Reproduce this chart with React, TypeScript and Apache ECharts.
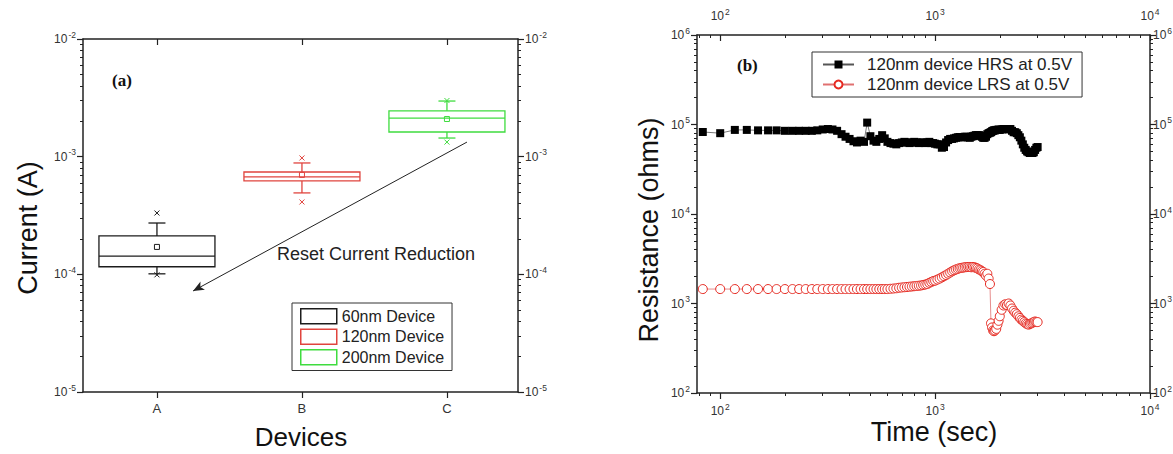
import React, { useEffect, useRef } from 'react';
import * as echarts from 'echarts';

// ---------- Panel (a): box statistics ----------
const categories = ['A', 'B', 'C'];
const categoryPositions = [1, 2, 3];
const deviceNames = ['60nm Device', '120nm Device', '200nm Device'];
const deviceColors = ['#1c1c1c', '#e0443e', '#3fdc3f'];
const whiskerLow = [1.01e-4, 4.92e-4, 1.44e-3];
const quartile1 = [1.16e-4, 6.22e-4, 1.62e-3];
const median = [1.43e-4, 6.73e-4, 2.13e-3];
const quartile3 = [2.12e-4, 7.41e-4, 2.45e-3];
const whiskerHigh = [2.73e-4, 8.84e-4, 2.97e-3];
const meanValue = [1.71e-4, 7.0e-4, 2.09e-3];
const outlierLow = [0.99e-4, 4.12e-4, 1.33e-3];
const outlierHigh = [3.32e-4, 9.75e-4, 3.0e-3];
const arrowStart = [3.138, 1.33e-3];
const arrowEnd = [1.249, 7.22e-5];
const currentMajorTicks = [1e-5, 1e-4, 1e-3, 1e-2];

// ---------- Panel (b): resistance vs time ----------
const timeSec = [
  83, 100, 117, 133, 150, 167, 183, 200, 217, 233,
  250, 267, 283, 300, 317, 333, 350, 367, 383, 400,
  417, 433, 450, 467, 483, 500, 517, 533, 550, 567,
  583, 600, 620, 640, 660, 680, 700, 720, 740, 760,
  780, 800, 820, 840, 860, 880, 900, 920, 940, 960,
  980, 1000, 1025, 1050, 1075, 1100, 1125, 1150, 1175, 1200,
  1225, 1250, 1275, 1300, 1325, 1350, 1375, 1400, 1425, 1450,
  1475, 1500, 1525, 1550, 1575, 1600, 1625, 1650, 1675, 1700,
  1725, 1750, 1775, 1800, 1820, 1840, 1860, 1880, 1900, 1925,
  1950, 1975, 2000, 2040, 2080, 2120, 2160, 2200, 2240, 2280,
  2320, 2360, 2400, 2440, 2480, 2520, 2560, 2600, 2640, 2680,
  2720, 2760, 2800, 2840, 2880, 2920, 2960, 3000,
];
const hrsOhms = [
  82500, 80000, 87000, 87000, 86000, 86000, 86000, 85000, 85000, 85000,
  85000, 85000, 86000, 88000, 89000, 88000, 85000, 78000, 73000, 69000,
  65000, 63000, 66000, 64000, 105000, 74000, 66000, 64000, 69000, 76000,
  70000, 64000, 62000, 61000, 60000, 62000, 63000, 64000, 63000, 62000,
  63000, 64000, 63000, 62000, 63000, 63000, 62000, 63000, 64000, 62000,
  62000, 61000, 60000, 60000, 55000, 56000, 63000, 67000, 69000, 69000,
  70000, 71000, 72000, 72500, 72000, 72000, 73000, 73000, 72000, 71000,
  73000, 74000, 75000, 76000, 76000, 76000, 75000, 73000, 71000, 71000,
  73000, 78000, 80000, 81000, 82000, 84000, 85000, 86000, 86000, 87000,
  87000, 88000, 87000, 88000, 89000, 89000, 89000, 88000, 89000, 85000,
  82000, 82000, 80000, 76000, 72000, 66000, 60000, 55000, 52000, 50000,
  49000, 48000, 48000, 48000, 49000, 52000, 55000, 56000,
];
const lrsOhms = [
  1450, 1450, 1450, 1450, 1450, 1450, 1450, 1450, 1450, 1450,
  1450, 1450, 1450, 1450, 1450, 1450, 1450, 1450, 1450, 1450,
  1450, 1450, 1450, 1450, 1450, 1450, 1450, 1450, 1450, 1450,
  1450, 1450, 1460, 1470, 1480, 1500, 1510, 1520, 1530, 1540,
  1550, 1560, 1570, 1580, 1590, 1610, 1630, 1650, 1700, 1740,
  1780, 1800, 1850, 1900, 1960, 2020, 2080, 2150, 2220, 2290,
  2350, 2400, 2440, 2480, 2500, 2520, 2540, 2550, 2560, 2560,
  2540, 2560, 2540, 2500, 2460, 2400, 2360, 2300, 2250, 2150,
  2050, 2150, 1900, 1650, 600, 540, 500, 490, 500, 520,
  580, 640, 720, 850, 950, 980, 960, 1000, 950, 880,
  830, 790, 760, 720, 690, 660, 640, 620, 600, 590,
  580, 590, 600, 610, 620, 630, 620, 620,
];
const timeMajorTicks = [100, 1000, 10000];
const resistanceMajorTicks = [1e2, 1e3, 1e4, 1e5, 1e6];
const minorMultipliers = [2, 3, 4, 5, 6, 7, 8, 9];

const minorsOf = (decades: number[]) =>
  decades.flatMap((d) => minorMultipliers.map((m) => Number((m * d).toPrecision(3))));
const currentMinorTicks = minorsOf([1e-5, 1e-4, 1e-3]);
const timeMinorTicks = [80, 90, ...minorsOf([100, 1000])];
const resistanceMinorTicks = minorsOf([1e2, 1e3, 1e4, 1e5]);

const FONT = '"Liberation Sans", Arial, Helvetica, sans-serif';
const SERIF = '"Liberation Serif", "Times New Roman", serif';
const AX = '#222';

const supRich = {
  b: { fontSize: 12, color: '#333', fontFamily: FONT },
  s: { fontSize: 8.5, color: '#333', fontFamily: FONT, padding: [0, 0, 9, 1] },
};
const powLabel = (v: number) => `{b|10}{s|${Math.round(Math.log10(v))}}`;

function majorAxis(o: any, ticks: number[], inside: boolean, showLabels: boolean, margin = 7) {
  return {
    splitLine: { show: false },
    axisLine: { show: true, onZero: false, lineStyle: { color: AX, width: 1.5 } },
    axisTick: { show: true, customValues: ticks, inside, length: 6, lineStyle: { color: AX, width: 1.2 } },
    axisLabel: showLabels
      ? { show: true, customValues: ticks, formatter: powLabel, rich: supRich, margin }
      : { show: false },
    ...o,
  };
}
function minorAxis(o: any, ticks: number[], inside: boolean) {
  return {
    splitLine: { show: false },
    axisLine: { show: false },
    axisTick: { show: true, customValues: ticks, inside, length: 3, lineStyle: { color: AX, width: 1 } },
    axisLabel: { show: false },
    ...o,
  };
}

function boxRenderer(color: string) {
  return (params: any, api: any) => {
    const x = api.value(0);
    const [xl, yq3] = api.coord([x - 0.4, api.value(4)]);
    const [xr, yq1] = api.coord([x + 0.4, api.value(2)]);
    const [xc, ymed] = api.coord([x, api.value(3)]);
    const ywl = api.coord([x, api.value(1)])[1];
    const ywh = api.coord([x, api.value(5)])[1];
    const ymean = api.coord([x, api.value(6)])[1];
    const yol = api.coord([x, api.value(7)])[1];
    const yoh = api.coord([x, api.value(8)])[1];
    const st = { stroke: color, lineWidth: 1.3 };
    const cap = 8.5;
    const cross = (y: number) => [
      { type: 'line', shape: { x1: xc - 2.5, y1: y - 2.5, x2: xc + 2.5, y2: y + 2.5 }, style: { stroke: color, lineWidth: 1 } },
      { type: 'line', shape: { x1: xc - 2.5, y1: y + 2.5, x2: xc + 2.5, y2: y - 2.5 }, style: { stroke: color, lineWidth: 1 } },
    ];
    return {
      type: 'group',
      children: [
        { type: 'rect', shape: { x: xl, y: yq3, width: xr - xl, height: yq1 - yq3 }, style: { stroke: color, lineWidth: 1.3, fill: 'rgba(255,255,255,0)' } },
        { type: 'line', shape: { x1: xl, y1: ymed, x2: xr, y2: ymed }, style: st },
        { type: 'line', shape: { x1: xc, y1: yq3, x2: xc, y2: ywh }, style: st },
        { type: 'line', shape: { x1: xc, y1: yq1, x2: xc, y2: ywl }, style: st },
        { type: 'line', shape: { x1: xc - cap, y1: ywh, x2: xc + cap, y2: ywh }, style: st },
        { type: 'line', shape: { x1: xc - cap, y1: ywl, x2: xc + cap, y2: ywl }, style: st },
        { type: 'rect', shape: { x: xc - 2.5, y: ymean - 2.5, width: 5, height: 5 }, style: { stroke: color, lineWidth: 1, fill: 'rgba(255,255,255,0)' } },
        ...cross(yol),
        ...cross(yoh),
      ],
    };
  };
}

export default function App() {
  const ref = useRef<HTMLDivElement>(null);
  useEffect(() => {
    if (!ref.current) return;
    const chart = echarts.init(ref.current, undefined, { renderer: 'svg' });

    const boxSeries = deviceNames.map((name, i) => ({
      type: 'custom',
      name,
      xAxisIndex: 0,
      yAxisIndex: 0,
      itemStyle: { color: deviceColors[i] },
      renderItem: boxRenderer(deviceColors[i]),
      data: [[categoryPositions[i], whiskerLow[i], quartile1[i], median[i], quartile3[i], whiskerHigh[i], meanValue[i], outlierLow[i], outlierHigh[i]]],
      ...(i === 0
        ? {
            markLine: {
              silent: true,
              symbol: ['none', 'arrow'],
              symbolSize: [7, 11],
              label: { show: false },
              lineStyle: { color: '#222', width: 1, type: 'solid' },
              data: [[{ coord: arrowStart }, { coord: arrowEnd }]],
            },
          }
        : {}),
    }));

    const option: any = {
      animation: false,
      textStyle: { fontFamily: FONT },
      grid: [
        { left: 83, top: 39, width: 435, height: 353, outerBoundsMode: 'none', containLabel: false },
        { left: 697, top: 35, width: 453, height: 358, outerBoundsMode: 'none', containLabel: false },
      ],
      xAxis: [
        {
          gridIndex: 0, type: 'value', position: 'bottom', min: 0.49, max: 3.49,
          splitLine: { show: false },
          axisLine: { show: true, onZero: false, lineStyle: { color: AX, width: 1.5 } },
          axisTick: { show: true, customValues: categoryPositions, length: 6, lineStyle: { color: AX, width: 1.2 } },
          axisLabel: { show: true, customValues: categoryPositions, formatter: (v: number) => categories[Math.round(v) - 1], fontSize: 13, color: '#333', margin: 10 },
        },
        {
          gridIndex: 0, type: 'value', position: 'top', min: 0.49, max: 3.49,
          splitLine: { show: false },
          axisLine: { show: true, onZero: false, lineStyle: { color: AX, width: 1.5 } },
          axisTick: { show: true, inside: true, customValues: categoryPositions, length: 6, lineStyle: { color: AX, width: 1.2 } },
          axisLabel: { show: false },
        },
        majorAxis({ gridIndex: 1, type: 'log', logBase: 10, position: 'bottom', min: 78, max: 10000 }, timeMajorTicks, false, true, 9),
        minorAxis({ gridIndex: 1, type: 'log', logBase: 10, position: 'bottom', min: 78, max: 10000 }, timeMinorTicks, false),
        majorAxis({ gridIndex: 1, type: 'log', logBase: 10, position: 'top', min: 78, max: 10000 }, timeMajorTicks, true, true, 10),
        minorAxis({ gridIndex: 1, type: 'log', logBase: 10, position: 'top', min: 78, max: 10000 }, timeMinorTicks, true),
      ],
      yAxis: [
        majorAxis({ gridIndex: 0, type: 'log', logBase: 10, position: 'left', min: 1e-5, max: 1e-2 }, currentMajorTicks, false, true),
        minorAxis({ gridIndex: 0, type: 'log', logBase: 10, position: 'left', min: 1e-5, max: 1e-2 }, currentMinorTicks, false),
        majorAxis({ gridIndex: 0, type: 'log', logBase: 10, position: 'right', min: 1e-5, max: 1e-2 }, currentMajorTicks, false, true),
        minorAxis({ gridIndex: 0, type: 'log', logBase: 10, position: 'right', min: 1e-5, max: 1e-2 }, currentMinorTicks, false),
        majorAxis({ gridIndex: 1, type: 'log', logBase: 10, position: 'left', min: 1e2, max: 1e6 }, resistanceMajorTicks, false, true),
        minorAxis({ gridIndex: 1, type: 'log', logBase: 10, position: 'left', min: 1e2, max: 1e6 }, resistanceMinorTicks, false),
        majorAxis({ gridIndex: 1, type: 'log', logBase: 10, position: 'right', min: 1e2, max: 1e6 }, resistanceMajorTicks, false, true, 3),
        minorAxis({ gridIndex: 1, type: 'log', logBase: 10, position: 'right', min: 1e2, max: 1e6 }, resistanceMinorTicks, false),
      ],
      legend: [
        {
          orient: 'vertical', left: 292, top: 303,
          padding: [5, 8, 5, 8], itemGap: 4, itemWidth: 36, itemHeight: 15,
          borderColor: '#333', borderWidth: 1, backgroundColor: '#fff',
          textStyle: { fontSize: 16, color: '#222', fontFamily: FONT },
          data: deviceNames.map((name, i) => ({
            name, icon: 'rect',
            itemStyle: { color: '#fff', borderColor: deviceColors[i], borderWidth: 1.5 },
          })),
        },
        {
          orient: 'vertical', left: 812, top: 52,
          padding: [4, 10, 4, 10], itemGap: 3, itemWidth: 31, itemHeight: 10,
          borderColor: '#333', borderWidth: 1, backgroundColor: '#fff',
          textStyle: { fontSize: 17, color: '#222', fontFamily: FONT, padding: [0, 0, 0, 8] },
          data: ['120nm device HRS at 0.5V', '120nm device LRS at 0.5V'],
        },
      ],
      series: [
        ...boxSeries,
        {
          type: 'line',
          name: '120nm device HRS at 0.5V',
          xAxisIndex: 2,
          yAxisIndex: 4,
          symbol: 'rect',
          symbolSize: 8,
          itemStyle: { color: '#000' },
          lineStyle: { color: '#555', width: 0.8 },
          data: timeSec.map((t, i) => [t, hrsOhms[i]]),
        },
        {
          type: 'line',
          name: '120nm device LRS at 0.5V',
          xAxisIndex: 2,
          yAxisIndex: 4,
          symbol: 'circle',
          symbolSize: 9,
          itemStyle: { color: '#fff', borderColor: '#e62a22', borderWidth: 1 },
          lineStyle: { color: '#e07070', width: 0.8 },
          data: timeSec.map((t, i) => [t, lrsOhms[i]]),
        },
      ],
      graphic: [
        { type: 'text', x: 112, y: 80, style: { text: '(a)', font: `bold 17px ${SERIF}`, fill: '#111', align: 'left', verticalAlign: 'middle', textAlign: 'left', textVerticalAlign: 'middle' } },
        { type: 'text', x: 737, y: 65, style: { text: '(b)', font: `bold 17px ${SERIF}`, fill: '#111', align: 'left', verticalAlign: 'middle', textAlign: 'left', textVerticalAlign: 'middle' } },
        { type: 'text', x: 277, y: 254, style: { text: 'Reset Current Reduction', font: `18px ${FONT}`, fill: '#222', align: 'left', verticalAlign: 'middle', textAlign: 'left', textVerticalAlign: 'middle' } },
        { type: 'text', x: 28, y: 228, rotation: Math.PI / 2, style: { text: 'Current (A)', font: `27px ${FONT}`, fill: '#111', align: 'center', verticalAlign: 'middle', textAlign: 'center', textVerticalAlign: 'middle' } },
        { type: 'text', x: 301, y: 437, style: { text: 'Devices', font: `26px ${FONT}`, fill: '#111', align: 'center', verticalAlign: 'middle', textAlign: 'center', textVerticalAlign: 'middle' } },
        { type: 'text', x: 649, y: 230, rotation: Math.PI / 2, style: { text: 'Resistance (ohms)', font: `27px ${FONT}`, fill: '#111', align: 'center', verticalAlign: 'middle', textAlign: 'center', textVerticalAlign: 'middle' } },
        { type: 'text', x: 934, y: 432, style: { text: 'Time (sec)', font: `27px ${FONT}`, fill: '#111', align: 'center', verticalAlign: 'middle', textAlign: 'center', textVerticalAlign: 'middle' } },
      ],
    };
    chart.setOption(option);
    return () => chart.dispose();
  }, []);
  return <div ref={ref} style={{ position: 'absolute', left: 0, top: 0, width: 1173, height: 454, background: '#fff' }} />;
}
